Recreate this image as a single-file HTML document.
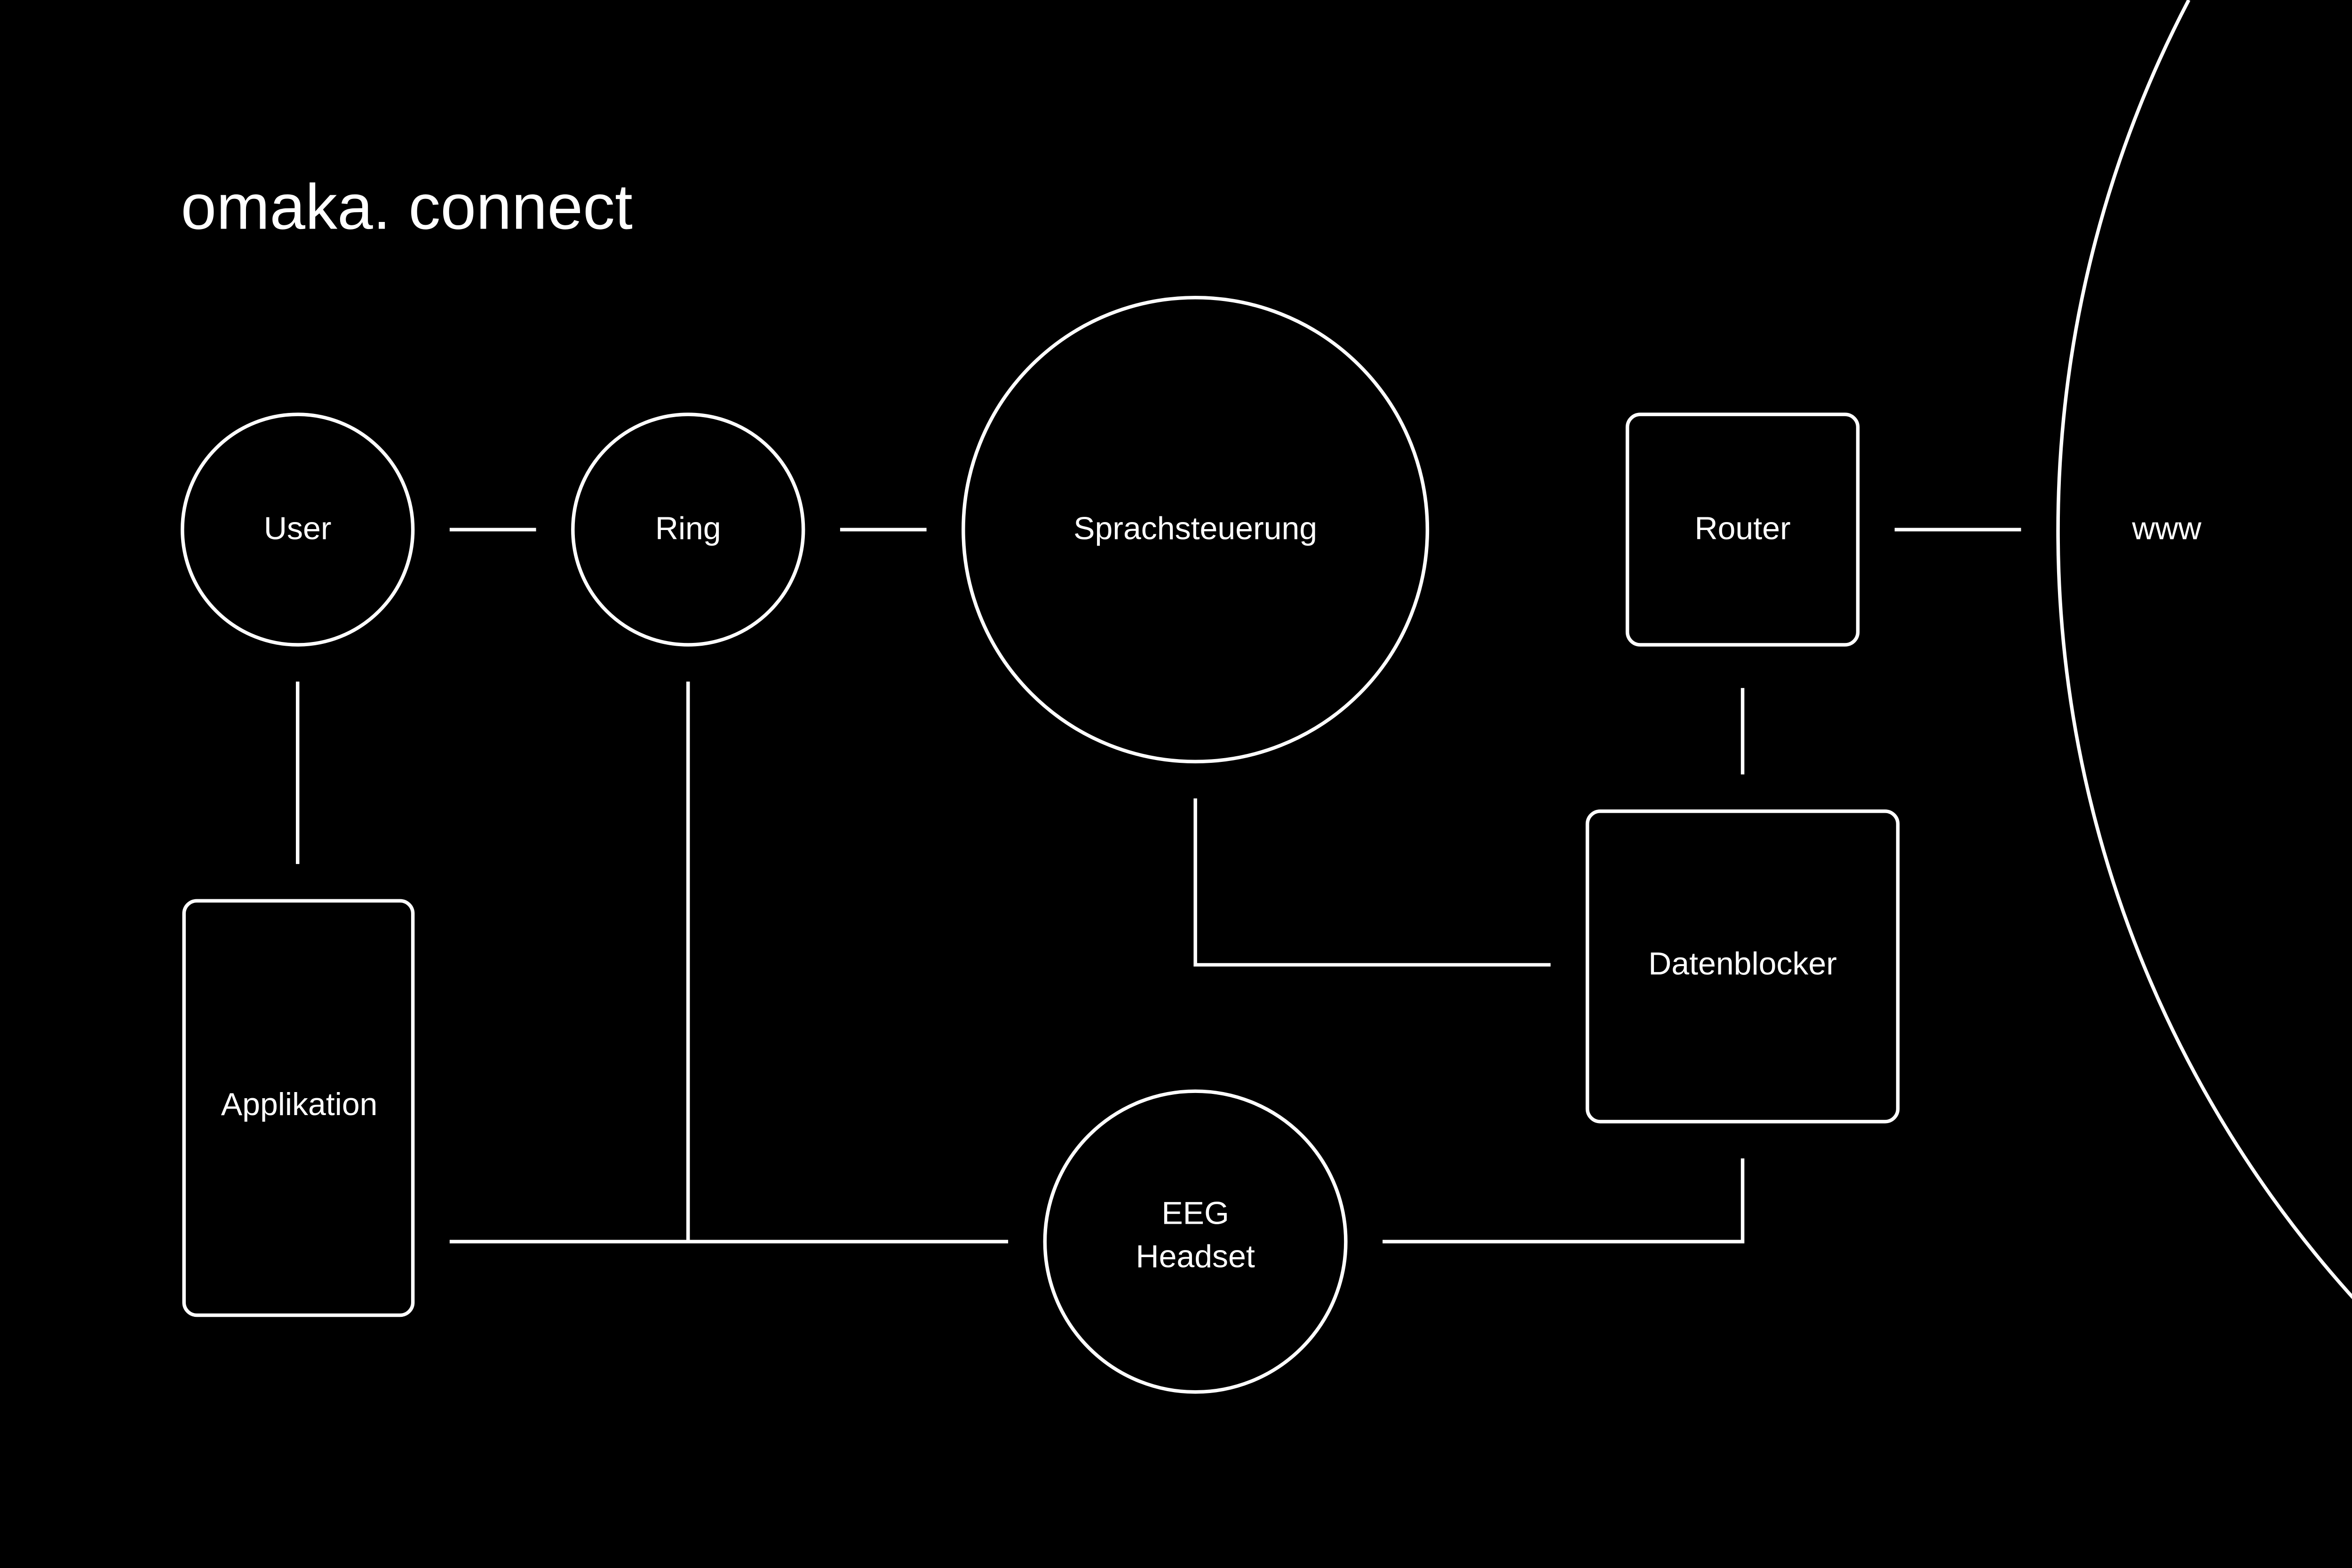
<!DOCTYPE html>
<html><head><style>
html,body{margin:0;padding:0;background:#000;width:5334px;height:3334px;overflow:hidden;}
svg{display:block;position:absolute;left:0;top:0;overflow:hidden;}
text{font-family:"Liberation Sans",sans-serif;fill:#fff;}
</style></head><body>
<svg width="5334" height="3334" viewBox="0 0 1568 980" preserveAspectRatio="none" xmlns="http://www.w3.org/2000/svg">
<rect width="1568" height="980" fill="#000"/>
<g fill="none" stroke="#fff" stroke-width="2.2">
<circle cx="186" cy="331" r="72"/>
<circle cx="430" cy="331" r="72"/>
<circle cx="747" cy="331" r="145"/>
<rect x="1017" y="259" width="144" height="144" rx="8"/>
<rect x="992" y="507" width="194" height="194" rx="8"/>
<rect x="115" y="563" width="143" height="259" rx="8"/>
<circle cx="747" cy="776" r="94"/>
<path d="M1367.8,0 A715,715 0 0,0 1567,900"/>
<line x1="281" y1="331" x2="335" y2="331"/>
<line x1="525" y1="331" x2="579" y2="331"/>
<line x1="1184" y1="331" x2="1263" y2="331"/>
<line x1="186" y1="426" x2="186" y2="540"/>
<line x1="430" y1="426" x2="430" y2="776"/>
<line x1="281" y1="776" x2="630" y2="776"/>
<line x1="1089" y1="430" x2="1089" y2="484"/>
<polyline points="747,499 747,603 969,603"/>
<polyline points="864,776 1089,776 1089,724"/>
</g>
<text x="113" y="143" font-size="40">omaka. connect</text>
<g font-size="20" text-anchor="middle">
<text x="186" y="337">User</text>
<text x="430" y="337">Ring</text>
<text x="747" y="337">Sprachsteuerung</text>
<text x="1089" y="337">Router</text>
<text x="1354" y="337">www</text>
<text x="1089" y="609">Datenblocker</text>
<text x="187" y="697">Applikation</text>
<text x="747" y="765">EEG</text>
<text x="747" y="792">Headset</text>
</g>
</svg>
</body></html>
